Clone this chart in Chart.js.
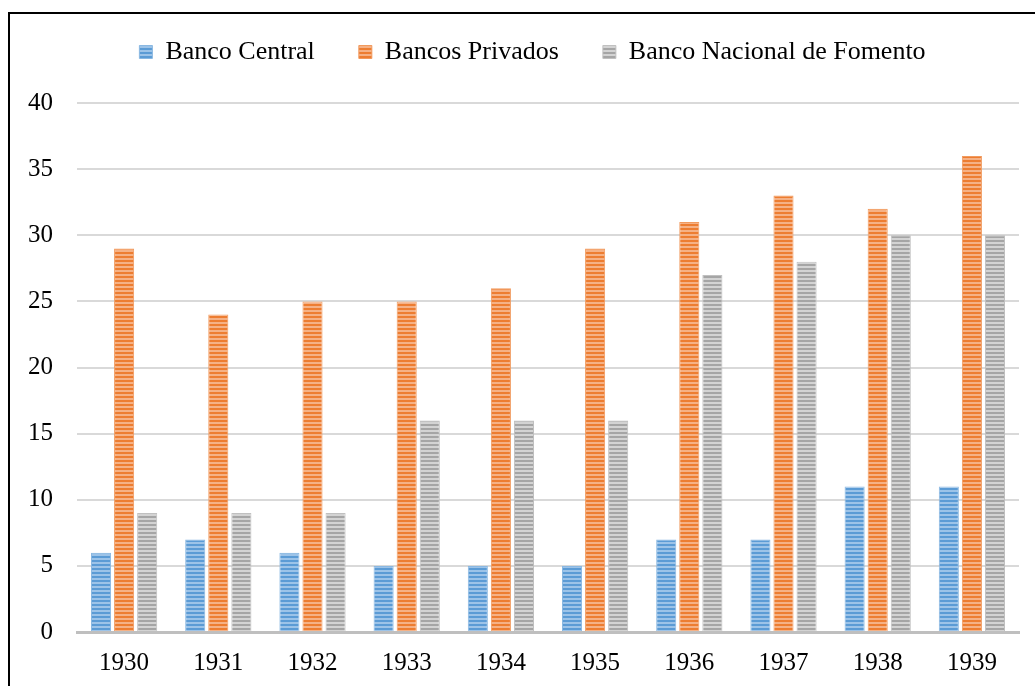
<!DOCTYPE html>
<html>
<head>
<meta charset="utf-8">
<script src="https://cdn.jsdelivr.net/npm/chart.js@4/dist/chart.umd.min.js"></script>
<style>
  html, body { margin: 0; padding: 0; background: #fff; }
  #wrap { position: absolute; left: 0; top: 0; width: 1035px; height: 686px; }
</style>
</head>
<body>
<div id="wrap"><canvas id="bancosChart"></canvas></div>
<script>
const years = ['1930', '1931', '1932', '1933', '1934', '1935', '1936', '1937', '1938', '1939'];
const bancoCentral = [6, 7, 6, 5, 5, 5, 7, 7, 11, 11];
const bancosPrivados = [29, 24, 25, 25, 26, 29, 31, 33, 32, 36];
const bancoNacional = [9, 9, 9, 16, 16, 16, 27, 28, 30, 30];
const yTicks = [0, 5, 10, 15, 20, 25, 30, 35, 40];

// horizontal stripes, like the original fill
function stripes(dark, light) {
    const c = document.createElement('canvas');
    c.width = 4;
    c.height = 4;
    const g = c.getContext('2d');
    g.fillStyle = light;
    g.fillRect(0, 0, 4, 4);
    g.fillStyle = dark;
    g.fillRect(0, 0, 4, 2);
    return g.createPattern(c, 'repeat');
}

const frame = {
    id: 'frame',
    afterDraw(chart) {
        const ctx = chart.ctx;
        ctx.save();
        ctx.strokeStyle = '#000';
        ctx.lineWidth = 2;
        ctx.beginPath();
        ctx.moveTo(9, 686);
        ctx.lineTo(9, 13);
        ctx.lineTo(1035, 13);
        ctx.stroke();
        ctx.restore();
    }
};

// more room under the legend, and nudge it right
const legendGap = {
    id: 'legendGap',
    beforeInit(chart) {
        const fit = chart.legend.fit;
        chart.legend.fit = function () {
            fit.call(this);
            this.height += 28;
        };
    },
    afterLayout(chart) {
        chart.legend.left += 21;
        chart.legend.right += 21;
    }
};

const serif = "'Liberation Serif', 'Times New Roman', serif";
const tickFont = { family: serif, size: 25 };
const legendFont = { family: serif, size: 26 };

new Chart(document.getElementById('bancosChart').getContext('2d'), {
    type: 'bar',
    data: {
        labels: years,
        datasets: [{
            label: 'Banco Central    ',
            data: bancoCentral,
            backgroundColor: stripes('#5b9bd5', '#9cc3e8'),
            borderColor: '#8ab8e2',
            borderWidth: 1
        }, {
            label: 'Bancos Privados    ',
            data: bancosPrivados,
            backgroundColor: stripes('#ed7d31', '#f5b185'),
            borderColor: '#f19a5e',
            borderWidth: 1
        }, {
            label: 'Banco Nacional de Fomento',
            data: bancoNacional,
            backgroundColor: stripes('#a5a5a5', '#d3d3d3'),
            borderColor: '#c0c0c0',
            borderWidth: 1
        }]
    },
    options: {
        responsive: true,
        maintainAspectRatio: false,
        animation: false,
        categoryPercentage: 0.735,
        barPercentage: 0.87,
        layout: { padding: { left: 4, right: 16, top: 21, bottom: 0 } },
        plugins: {
            legend: {
                labels: {
                    color: '#000',
                    font: legendFont,
                    boxWidth: 13,
                    boxHeight: 13,
                    padding: 18
                }
            },
            tooltip: { enabled: false }
        },
        scales: {
            x: {
                ticks: { color: '#000', font: tickFont, padding: 8 },
                grid: { display: false },
                border: { color: '#bfbfbf', width: 3 }
            },
            y: {
                min: 0,
                max: 40,
                afterBuildTicks: axis => { axis.ticks = yTicks.map(v => ({ value: v })); },
                ticks: { color: '#000', font: tickFont, padding: 24 },
                grid: { color: '#d9d9d9', lineWidth: 2, drawTicks: false },
                border: { display: false }
            }
        }
    },
    plugins: [frame, legendGap]
});
</script>
</body>
</html>
